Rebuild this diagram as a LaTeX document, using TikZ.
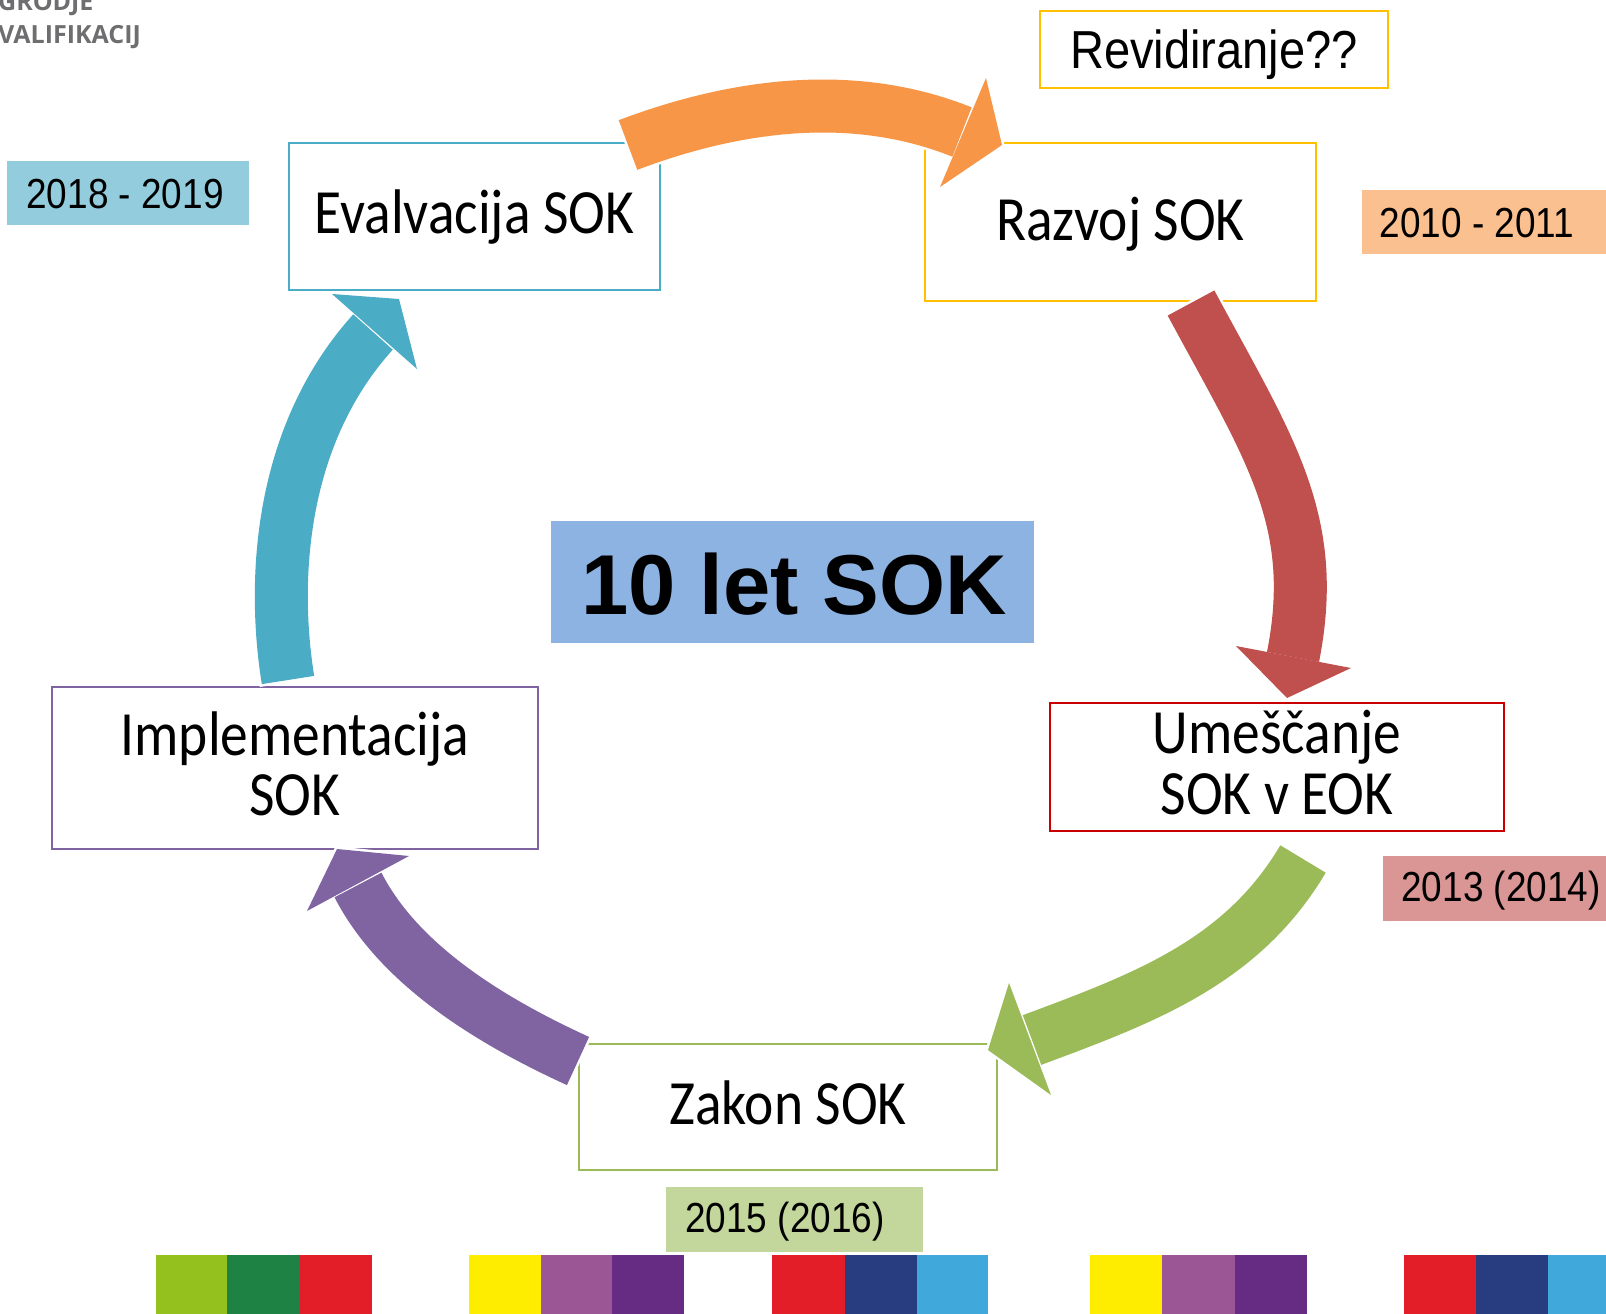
\documentclass[tikz,border=0pt]{standalone}
\usepackage{fontspec}
\newfontfamily\boxfont[FakeStretch=0.88]{Carlito}
\newfontfamily\datefont[FakeStretch=0.88]{Liberation Sans}
\newfontfamily\titlefont{Liberation Sans}
\newfontfamily\logofont{Open Sans}
\definecolor{cBlue}{HTML}{4BACC6}
\definecolor{cOrange}{HTML}{F79646}
\definecolor{cRed}{HTML}{C0504D}
\definecolor{cGreen}{HTML}{9BBB59}
\definecolor{cPurple}{HTML}{8064A2}
\definecolor{bYellow}{HTML}{FFC000}
\definecolor{bRed}{HTML}{C80000}
\definecolor{dBlue}{HTML}{93CDDD}
\definecolor{dOrange}{HTML}{FAC090}
\definecolor{dRed}{HTML}{D99694}
\definecolor{dGreen}{HTML}{C3D69B}
\definecolor{tBlue}{HTML}{8DB3E2}
\definecolor{sLime}{HTML}{95C11F}
\definecolor{sDkGreen}{HTML}{1D8243}
\definecolor{sRed}{HTML}{E31E28}
\definecolor{sYellow}{HTML}{FFED00}
\definecolor{sMauve}{HTML}{9B5696}
\definecolor{sPurple}{HTML}{662C84}
\definecolor{sNavy}{HTML}{283C80}
\definecolor{sLtBlue}{HTML}{41A8DC}
\definecolor{logoGray}{HTML}{6E6E70}
\begin{document}
\begin{tikzpicture}[x=1pt,y=-1pt,
  frame/.style={draw, line width=2pt, anchor=north west, inner sep=0pt, outer sep=0pt},
  datebox/.style={anchor=north west, inner sep=0pt, outer sep=0pt},
  boxtext/.style={anchor=base, inner sep=0pt, font=\boxfont\fontsize{63}{63}\selectfont},
  datetext/.style={anchor=base, inner sep=0pt, font=\datefont\fontsize{42}{42}\selectfont},
  stripe/.style={anchor=north west, inner sep=0pt, outer sep=0pt, minimum height=59pt},
  bodyline/.style={line width=53pt, line cap=butt},
  bodywhite/.style={line width=58pt, line cap=butt, draw=white, shorten <=-2.5pt},
  headwhite/.style={draw=white, fill=white, line width=5pt, line join=miter},
]
\useasboundingbox (0,0) rectangle (1606,1314);
\clip (0,0) rectangle (1606,1314);
\fill[white] (0,0) rectangle (1606,1314);

% logo remains
\node[anchor=base west, inner sep=0pt, text=logoGray, font=\logofont\bfseries\fontsize{25}{25}\selectfont] (logoA) at (-2,11) {GRODJE};
\node[anchor=base west, inner sep=0pt, text=logoGray, font=\logofont\bfseries\fontsize{25}{25}\selectfont] (logoB) at (-2,44) {VALIFIKACIJ};

% boxes
\node[frame, draw=cBlue, minimum width=371pt, minimum height=147pt] (eval) at (289,143) {};
\node[frame, draw=bYellow, minimum width=348pt, minimum height=77pt] (revid) at (1040,11) {};
\node[frame, draw=bYellow, minimum width=391pt, minimum height=158pt] (razvoj) at (925,143) {};
\node[frame, draw=bRed, minimum width=454pt, minimum height=128pt] (umesc) at (1050,703) {};
\node[frame, draw=cPurple, minimum width=486pt, minimum height=162pt] (impl) at (52,687) {};
\node[frame, draw=cGreen, minimum width=418pt, minimum height=126pt] (zakon) at (579,1044) {};

% date labels
\node[datebox, fill=dBlue, minimum width=242pt, minimum height=64pt] (d1) at (7,161) {};
\node[datebox, fill=dOrange, minimum width=244pt, minimum height=64pt] (d2) at (1362,190) {};
\node[datebox, fill=dRed, minimum width=223pt, minimum height=65pt] (d3) at (1383,856) {};
\node[datebox, fill=dGreen, minimum width=257pt, minimum height=65pt] (d4) at (666,1187) {};
\node[datebox, fill=tBlue, minimum width=483pt, minimum height=122pt] (title) at (551,521) {};

% arrow coordinates
\coordinate (oT) at (628,145); \coordinate (oE) at (962,132);
\coordinate (rT) at (1191,303); \coordinate (rE) at (1293,657);
\coordinate (gT) at (1303,859); \coordinate (gE) at (1032,1040);
\coordinate (pT) at (578,1061); \coordinate (pE) at (358,885);
\coordinate (bT) at (288,680); \coordinate (bE) at (373,332);

% white outlines
\draw[bodywhite] (oT) .. controls (734,105) and (852,88) .. (oE);
\draw[headwhite] (986,78) -- (1002,145) -- (940,187) -- cycle;
\draw[bodywhite] (rT) .. controls (1269,448) and (1320,520) .. (rE);
\draw[headwhite] (1236,646) -- (1287,698) -- (1351,668) -- cycle;
\draw[bodywhite] (gT) .. controls (1242,962) and (1145,998) .. (gE);
\draw[headwhite] (1009,983) -- (988,1050) -- (1051,1095) -- cycle;
\draw[bodywhite] (pT) .. controls (495,1023) and (400,967) .. (pE);
\draw[headwhite] (409,856) -- (337,849) -- (307,911) -- cycle;
\draw[bodywhite] (bT) .. controls (272,581) and (279,436) .. (bE);
\draw[headwhite] (332,294) -- (399,299) -- (417,369) -- cycle;

% coloured arrows
\draw[bodyline, cOrange] (oT) .. controls (734,105) and (852,88) .. (oE);
\fill[cOrange] (986,78) -- (1002,145) -- (940,187) -- cycle;
\draw[bodyline, cRed] (rT) .. controls (1269,448) and (1320,520) .. (rE);
\fill[cRed] (1236,646) -- (1287,698) -- (1351,668) -- cycle;
\draw[bodyline, cGreen] (gT) .. controls (1242,962) and (1145,998) .. (gE);
\fill[cGreen] (1009,983) -- (988,1050) -- (1051,1095) -- cycle;
\draw[bodyline, cPurple] (pT) .. controls (495,1023) and (400,967) .. (pE);
\fill[cPurple] (409,856) -- (337,849) -- (307,911) -- cycle;
\draw[bodyline, cBlue] (bT) .. controls (272,581) and (279,436) .. (bE);
\fill[cBlue] (332,294) -- (399,299) -- (417,369) -- cycle;

% texts
\node[boxtext] (evalT) at (474.5,233.5) {Evalvacija SOK};
\node[boxtext] (razvojT) at (1120.5,240) {Razvoj SOK};
\node[anchor=base, inner sep=0pt, font=\datefont\fontsize{53.5}{53.5}\selectfont] (revidT) at (1214,69) {Revidiranje??};
\node[boxtext] (umescA) at (1277,753) {Umeščanje};
\node[boxtext] (umescB) at (1277,814) {SOK v EOK};
\node[boxtext] (implA) at (295,755) {Implementacija};
\node[boxtext] (implB) at (295,815) {SOK};
\node[boxtext] (zakonT) at (788,1124) {Zakon SOK};
\node[anchor=base, inner sep=0pt, font=\titlefont\bfseries\fontsize{85}{85}\selectfont] (titleT) at (794,614.5) {10 let SOK};
\node[datetext] (d1T) at (125,208) {2018 - 2019};
\node[datetext] (d2T) at (1477,237.6) {2010 - 2011};
\node[datetext] (d3T) at (1501,901) {2013 (2014)};
\node[datetext] (d4T) at (785,1232) {2015 (2016)};

% colour strip
\node[stripe, fill=sLime, minimum width=72pt] (s1) at (156,1255) {};
\node[stripe, fill=sDkGreen, minimum width=73pt] (s2) at (227,1255) {};
\node[stripe, fill=sRed, minimum width=72pt] (s3) at (300,1255) {};
\node[stripe, fill=sYellow, minimum width=72pt] (s4) at (469,1255) {};
\node[stripe, fill=sMauve, minimum width=71pt] (s5) at (541,1255) {};
\node[stripe, fill=sPurple, minimum width=72pt] (s6) at (612,1255) {};
\node[stripe, fill=sRed, minimum width=73pt] (s7) at (772,1255) {};
\node[stripe, fill=sNavy, minimum width=72pt] (s8) at (845,1255) {};
\node[stripe, fill=sLtBlue, minimum width=71pt] (s9) at (917,1255) {};
\node[stripe, fill=sYellow, minimum width=72pt] (s10) at (1090,1255) {};
\node[stripe, fill=sMauve, minimum width=73pt] (s11) at (1162,1255) {};
\node[stripe, fill=sPurple, minimum width=72pt] (s12) at (1235,1255) {};
\node[stripe, fill=sRed, minimum width=72pt] (s13) at (1404,1255) {};
\node[stripe, fill=sNavy, minimum width=72pt] (s14) at (1476,1255) {};
\node[stripe, fill=sLtBlue, minimum width=60pt] (s15) at (1548,1255) {};
\end{tikzpicture}
\end{document}
